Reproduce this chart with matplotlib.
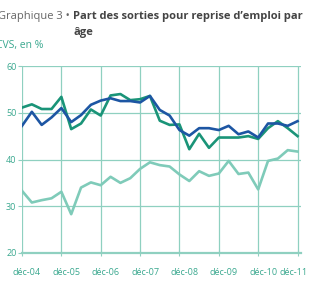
import matplotlib
matplotlib.use("Agg")
import matplotlib.pyplot as plt
from matplotlib.transforms import ScaledTranslation

# quarterly points, dec-04 .. dec-11
ticklabels = ["déc-04", "déc-05", "déc-06", "déc-07", "déc-08", "déc-09", "déc-10", "déc-11"]

light = [33.3, 30.8, 31.3, 31.7, 33.1, 28.3, 34.0, 35.1, 34.5, 36.3, 35.0, 36.0, 38.0,
         39.4, 38.8, 38.5, 36.8, 35.4, 37.5, 36.5, 37.0, 39.7, 36.9, 37.2, 33.6, 39.7,
         40.2, 42.0, 41.7]
green = [51.1, 51.8, 50.8, 50.8, 53.4, 46.5, 47.7, 50.7, 49.4, 53.7, 54.0, 52.7, 52.9,
         53.6, 48.3, 47.4, 47.5, 42.2, 45.5, 42.5, 44.7, 44.7, 44.7, 45.0, 44.4, 46.7,
         48.2, 46.7, 45.0]
blue = [47.2, 50.2, 47.4, 49.0, 51.0, 48.0, 49.5, 51.7, 52.6, 53.1, 52.5, 52.5, 52.2,
        53.6, 50.6, 49.4, 46.3, 45.1, 46.7, 46.7, 46.3, 47.2, 45.4, 46.0, 44.7, 47.7,
        47.7, 47.2, 48.2]

teal = "#3aa88f"
gridc = "#8fd0c0"
plt.rcParams['font.family'] = ['Open Sans', 'DejaVu Sans']

fig = plt.figure(figsize=(3.09, 2.92), dpi=100)
ax = fig.add_axes([22/309, 1-253/292, (301-22)/309, (253-66)/292])

x = list(range(len(light)))
ax.plot(x, light, color="#7fcbb9", lw=1.9)
ax.plot(x, green, color="#1a9478", lw=1.9)
ax.plot(x, blue, color="#1d56a3", lw=1.9)

ax.set_xlim(0, 28.35)
ax.set_ylim(20, 60)
ax.set_xticks(range(0, 29, 4))
ax.set_xticklabels(ticklabels)
ax.set_yticks([20, 30, 40, 50, 60])
ax.grid(True, color=gridc, lw=0.9)
ax.set_axisbelow(True)
for s in ["top", "right", "left"]:
    ax.spines[s].set_visible(False)
ax.spines["bottom"].set_color(gridc)
ax.spines["bottom"].set_linewidth(1.6)
ax.tick_params(axis="x", colors=teal, labelsize=6.5, length=4, direction="inout",
               color=gridc, pad=9)
ax.tick_params(axis="y", colors=teal, labelsize=6.5, length=3, color=gridc, pad=1)

# labels sit a little right of their ticks, the last one pulled in
labs = ax.get_xticklabels()
for i, lab in enumerate(labs):
    dx = 5 if i < len(labs) - 1 else -4
    lab.set_transform(lab.get_transform() + ScaledTranslation(dx / 100, 0, fig.dpi_scale_trans))

fig.text(-0.005, 1 - 16.5/292, "Graphique 3 \u2022", fontsize=8, color="#666666", va="center")
fig.text(73/309, 1 - 16.5/292, "Part des sorties pour reprise d\u2019emploi par",
         fontsize=8, fontweight="bold", color="#444444", va="center")
fig.text(73/309, 1 - 32/292, "\u00e2ge",
         fontsize=8, fontweight="bold", color="#444444", va="center")
fig.text(-0.012, 1 - 45.5/292, "CVS, en %", fontsize=7.5, color=teal, va="center")

fig.savefig("out.png", dpi=100)
